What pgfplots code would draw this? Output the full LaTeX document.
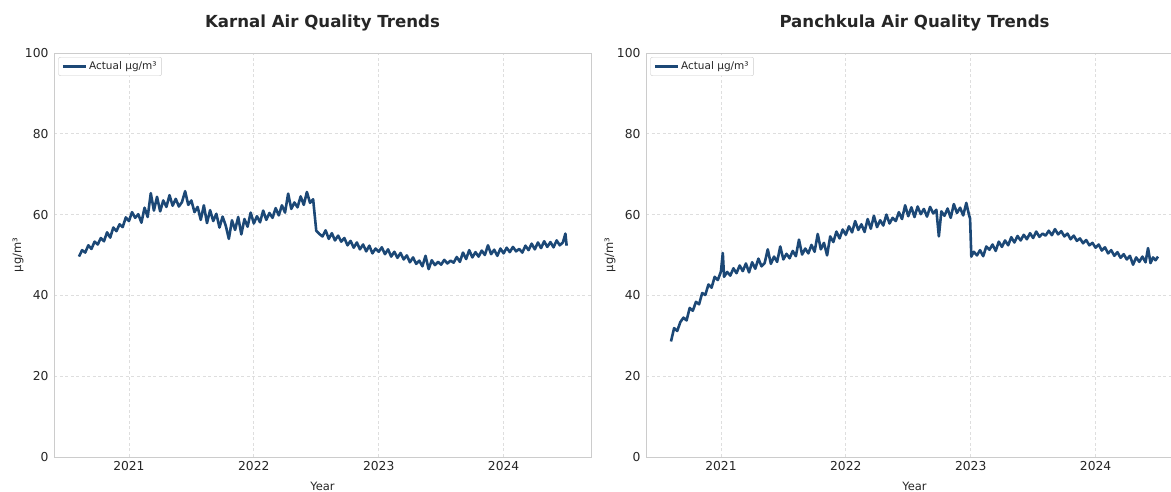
\documentclass[border=0pt]{standalone}
\usepackage{fontspec}
\setmainfont{DejaVu Sans}
\usepackage{pgfplots}
\usepackage{pgfplotstable}
\pgfplotsset{compat=1.18}

\definecolor{seriesblue}{RGB}{28,72,118}
\definecolor{framegray}{RGB}{204,204,204}
\definecolor{gridgray}{RGB}{222,222,222}
\definecolor{txt}{RGB}{38,38,38}

% Karnal weekly averages (year, ug/m3)
\pgfplotstableread{
x y
2020.600 49.6
2020.625 51.2
2020.650 50.6
2020.675 52.4
2020.700 51.5
2020.725 53.3
2020.750 52.6
2020.775 54.2
2020.800 53.4
2020.825 55.6
2020.850 54.3
2020.875 56.8
2020.900 55.9
2020.925 57.6
2020.950 56.9
2020.975 59.3
2021.000 58.4
2021.025 60.6
2021.050 59.2
2021.075 60.1
2021.100 58.0
2021.125 61.7
2021.150 59.4
2021.175 65.3
2021.200 61.0
2021.225 64.4
2021.250 60.8
2021.275 63.5
2021.300 61.9
2021.325 64.8
2021.350 62.2
2021.375 63.9
2021.400 62.0
2021.425 63.1
2021.450 65.8
2021.475 62.4
2021.500 63.5
2021.525 60.6
2021.550 61.9
2021.575 58.7
2021.600 62.3
2021.625 57.9
2021.650 61.1
2021.675 58.4
2021.700 60.2
2021.725 56.8
2021.750 59.5
2021.775 57.3
2021.800 54.0
2021.825 58.6
2021.850 56.2
2021.875 59.4
2021.900 55.1
2021.925 58.9
2021.950 57.0
2021.975 60.5
2022.000 57.8
2022.025 59.6
2022.050 58.1
2022.075 61.0
2022.100 58.7
2022.125 60.4
2022.150 59.2
2022.175 61.6
2022.200 59.8
2022.225 62.3
2022.250 60.5
2022.275 65.2
2022.300 61.4
2022.325 63.0
2022.350 61.8
2022.375 64.5
2022.400 62.4
2022.425 65.6
2022.450 62.9
2022.475 63.8
2022.500 56.0
2022.525 55.2
2022.550 54.6
2022.575 56.1
2022.600 54.0
2022.625 55.4
2022.650 53.6
2022.675 54.8
2022.700 53.3
2022.725 54.2
2022.750 52.4
2022.775 53.5
2022.800 51.8
2022.825 53.1
2022.850 51.4
2022.875 52.6
2022.900 50.9
2022.925 52.3
2022.950 50.4
2022.975 51.6
2023.000 50.8
2023.025 51.9
2023.050 50.2
2023.075 51.4
2023.100 49.6
2023.125 50.8
2023.150 49.3
2023.175 50.5
2023.200 48.9
2023.225 49.9
2023.250 48.2
2023.275 49.4
2023.300 47.8
2023.325 48.6
2023.350 47.2
2023.375 49.8
2023.400 46.5
2023.425 48.7
2023.450 47.5
2023.475 48.3
2023.500 47.6
2023.525 48.8
2023.550 47.9
2023.575 48.6
2023.600 48.1
2023.625 49.5
2023.650 48.3
2023.675 50.6
2023.700 49.0
2023.725 51.2
2023.750 49.4
2023.775 50.7
2023.800 49.6
2023.825 51.1
2023.850 50.0
2023.875 52.4
2023.900 50.2
2023.925 51.3
2023.950 49.8
2023.975 51.6
2024.000 50.4
2024.025 51.8
2024.050 50.7
2024.075 52.0
2024.100 50.9
2024.125 51.5
2024.150 50.6
2024.175 52.3
2024.200 51.2
2024.225 52.8
2024.250 51.4
2024.275 53.1
2024.300 51.7
2024.325 53.4
2024.350 52.0
2024.375 53.2
2024.400 51.9
2024.425 53.6
2024.450 52.4
2024.475 53.1
2024.495 55.3
2024.505 52.3
}\karnal

% Panchkula weekly averages (year, ug/m3)
\pgfplotstableread{
x y
2020.600 28.6
2020.625 31.9
2020.650 31.2
2020.675 33.4
2020.700 34.5
2020.725 33.8
2020.750 36.9
2020.775 36.2
2020.800 38.4
2020.825 37.8
2020.850 40.6
2020.875 40.1
2020.900 42.7
2020.925 41.9
2020.950 44.6
2020.975 43.8
2021.000 45.9
2021.015 50.5
2021.025 44.6
2021.050 45.8
2021.075 44.9
2021.100 46.7
2021.125 45.5
2021.150 47.4
2021.175 46.0
2021.200 47.9
2021.225 45.7
2021.250 48.2
2021.275 46.6
2021.300 49.1
2021.325 47.2
2021.350 48.0
2021.375 51.4
2021.400 47.8
2021.425 49.6
2021.450 48.3
2021.475 52.1
2021.500 48.9
2021.525 50.3
2021.550 49.2
2021.575 51.0
2021.600 49.7
2021.625 53.8
2021.650 50.1
2021.675 51.6
2021.700 50.4
2021.725 52.5
2021.750 50.8
2021.775 55.2
2021.800 51.4
2021.825 53.0
2021.850 49.9
2021.875 54.6
2021.900 53.2
2021.925 55.8
2021.950 54.1
2021.975 56.3
2022.000 55.0
2022.025 57.1
2022.050 55.6
2022.075 58.4
2022.100 56.2
2022.125 57.6
2022.150 55.7
2022.175 58.9
2022.200 56.5
2022.225 59.7
2022.250 56.9
2022.275 58.6
2022.300 57.3
2022.325 60.0
2022.350 57.8
2022.375 59.2
2022.400 58.4
2022.425 60.6
2022.450 58.9
2022.475 62.3
2022.500 59.6
2022.525 61.8
2022.550 59.4
2022.575 62.0
2022.600 60.1
2022.625 61.4
2022.650 59.5
2022.675 61.9
2022.700 60.3
2022.725 61.2
2022.745 54.6
2022.765 60.8
2022.790 59.7
2022.815 61.5
2022.840 59.2
2022.865 62.6
2022.890 60.4
2022.915 61.7
2022.940 59.8
2022.965 62.9
2022.985 60.1
2022.995 59.0
2023.005 49.6
2023.025 50.8
2023.050 49.9
2023.075 51.2
2023.100 49.7
2023.125 52.1
2023.150 51.3
2023.175 52.6
2023.200 51.0
2023.225 53.3
2023.250 52.0
2023.275 53.6
2023.300 52.4
2023.325 54.4
2023.350 53.1
2023.375 54.7
2023.400 53.6
2023.425 55.0
2023.450 53.9
2023.475 55.4
2023.500 54.2
2023.525 55.8
2023.550 54.5
2023.575 55.3
2023.600 54.8
2023.625 56.0
2023.650 54.9
2023.675 56.4
2023.700 55.1
2023.725 55.9
2023.750 54.6
2023.775 55.3
2023.800 53.9
2023.825 54.8
2023.850 53.5
2023.875 54.1
2023.900 52.9
2023.925 53.7
2023.950 52.4
2023.975 53.0
2024.000 51.8
2024.025 52.6
2024.050 51.1
2024.075 51.9
2024.100 50.4
2024.125 51.2
2024.150 49.8
2024.175 50.7
2024.200 49.3
2024.225 50.2
2024.250 48.9
2024.275 49.8
2024.300 47.6
2024.325 49.4
2024.350 48.3
2024.375 49.6
2024.400 48.2
2024.420 51.7
2024.440 48.0
2024.460 49.4
2024.480 48.7
2024.500 49.6
}\panchkula

\pgfplotsset{
  aqpanel/.style={
    scale only axis,
    width=537pt, height=404pt,
    anchor=south west,
    xmin=2020.4, xmax=2024.7,
    ymin=0, ymax=100,
    xtick={2021,2022,2023,2024},
    xticklabels={2021,2022,2023,2024},
    ytick={0,20,40,60,80,100},
    major tick length=0pt,
    /pgf/number format/assume math mode=true,
    tick label style={font=\fontsize{12.3}{14}\selectfont, text=txt},
    xticklabel style={yshift=-1pt},
    yticklabel style={xshift=-2pt},
    axis line style={framegray, line width=0.9pt},
    grid=major,
    major grid style={gridgray, line width=0.7pt, dash pattern=on 3pt off 2.5pt},
    title style={font=\bfseries\fontsize{16.6}{19}\selectfont, text=txt, yshift=12pt},
    xlabel={Year},
    ylabel={µg/m³},
    every axis x label/.style={at={(axis description cs:0.5,-0.072)}, anchor=center, font=\fontsize{11.5}{13}\selectfont, text=txt},
    every axis y label/.style={at={(axis description cs:-0.067,0.5)}, rotate=90, anchor=center, font=\fontsize{11.5}{13}\selectfont, text=txt},
    legend style={at={(axis description cs:0.008,0.99)}, anchor=north west,
      draw=framegray, rounded corners=2pt, fill=white,
      font=\fontsize{10.5}{12.5}\selectfont, text=txt,
      inner xsep=3pt, inner ysep=2.5pt},
    legend cell align=left,
    legend image code/.code={\draw[#1] (0pt,0pt) -- (23pt,0pt);},
  },
  aqline/.style={seriesblue, line width=2.6pt, line join=round, no markers},
}

\begin{document}
\begin{tikzpicture}
\useasboundingbox (0,0) rectangle (1171pt,492pt);

\begin{axis}[aqpanel, at={(54pt,35pt)}, title={Karnal Air Quality Trends}]
  \addplot[aqline] table[x=x, y=y] {\karnal};
  \addlegendentry{Actual µg/m³}
\end{axis}

\begin{axis}[aqpanel, at={(646pt,35pt)}, title={Panchkula Air Quality Trends}]
  \addplot[aqline] table[x=x, y=y] {\panchkula};
  \addlegendentry{Actual µg/m³}
\end{axis}
\end{tikzpicture}
\end{document}
